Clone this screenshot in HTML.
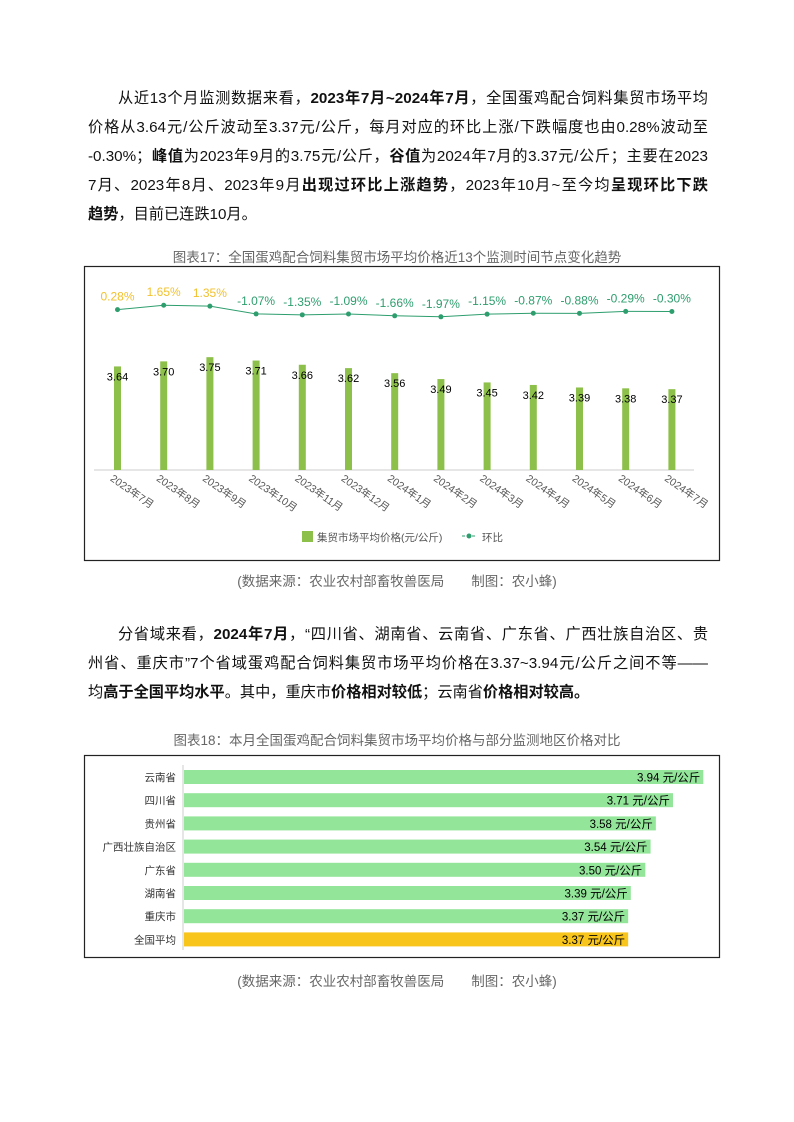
<!DOCTYPE html>
<html><head><meta charset="utf-8"><style>
body{margin:0;background:#fff;}
.page{position:relative;width:794px;height:1122px;overflow:hidden;font-family:"Liberation Sans","Noto Sans CJK SC",sans-serif;color:#111;}
.p{position:absolute;left:88px;width:620px;font-size:15.2px;line-height:29px;}
.p div{text-align:justify;text-align-last:justify;white-space:nowrap;}
.p div.last{text-align-last:left;}
.cap{position:absolute;left:0;width:794px;text-align:center;font-size:13.5px;color:#666;}
svg text{font-family:"Liberation Sans","Noto Sans CJK SC",sans-serif;}
</style></head><body><div class="page">
<div class="p" style="top:84px">
<div style="padding-left:30px">从近13个月监测数据来看，<b>2023年7月~2024年7月</b>，全国蛋鸡配合饲料集贸市场平均</div>
<div>价格从3.64元/公斤波动至3.37元/公斤，每月对应的环比上涨/下跌幅度也由0.28%波动至</div>
<div>-0.30%；<b>峰值</b>为2023年9月的3.75元/公斤，<b>谷值</b>为2024年7月的3.37元/公斤；主要在2023</div>
<div>7月、2023年8月、2023年9月<b>出现过环比上涨趋势</b>，2023年10月~至今均<b>呈现环比下跌</b></div>
<div class="last"><b>趋势</b>，目前已连跌10月。</div>
</div>
<div class="cap" style="top:246px">图表17：全国蛋鸡配合饲料集贸市场平均价格近13个监测时间节点变化趋势</div>
<svg style="position:absolute;left:0;top:0" width="794" height="1122">
<rect x="84.5" y="266.5" width="635" height="294" fill="none" stroke="#222" stroke-width="1.2"/>
<line x1="94" y1="470" x2="694" y2="470" stroke="#ccc"/>
<g id="bars"></g>
<rect x="302" y="531" width="11" height="11" fill="#8dc04a"/>
<text x="317" y="541" font-size="10.5" fill="#555">集贸市场平均价格(元/公斤)</text>
<line x1="462" y1="536" x2="476" y2="536" stroke="#2e9e6e" stroke-dasharray="3,2"/><circle cx="469" cy="536" r="2.5" fill="#2e9e6e"/>
<text x="482" y="541" font-size="10.5" fill="#555">环比</text>
<rect x="84.5" y="755.5" width="635" height="202" fill="none" stroke="#222" stroke-width="1.2"/>
<line x1="183" y1="765" x2="183" y2="950" stroke="#ccc"/>
<g id="hb"></g>
</svg>
<div class="cap" style="top:570px">(数据来源：农业农村部畜牧兽医局　　制图：农小蜂)</div>
<div class="p" style="top:620px">
<div style="padding-left:30px">分省域来看，<b>2024年7月</b>，“四川省、湖南省、云南省、广东省、广西壮族自治区、贵</div>
<div>州省、重庆市”7个省域蛋鸡配合饲料集贸市场平均价格在3.37~3.94元/公斤之间不等——</div>
<div class="last">均<b>高于全国平均水平</b>。其中，重庆市<b>价格相对较低</b>；云南省<b>价格相对较高。</b></div>
</div>
<div class="cap" style="top:729px">图表18：本月全国蛋鸡配合饲料集贸市场平均价格与部分监测地区价格对比</div>
<div class="cap" style="top:970px">(数据来源：农业农村部畜牧兽医局　　制图：农小蜂)</div>
</div>
<script>
var v=[3.64,3.70,3.75,3.71,3.66,3.62,3.56,3.49,3.45,3.42,3.39,3.38,3.37];
var r=[0.28,1.65,1.35,-1.07,-1.35,-1.09,-1.66,-1.97,-1.15,-0.87,-0.88,-0.29,-0.30];
var m=["2023年7月","2023年8月","2023年9月","2023年10月","2023年11月","2023年12月","2024年1月","2024年2月","2024年3月","2024年4月","2024年5月","2024年6月","2024年7月"];
var s="",pts=[];
for(var i=0;i<13;i++){var x=117.5+i*46.2,h=(v[i]-2.41)*84.2,y=470-h;
s+='<rect x="'+(x-3.5)+'" y="'+y+'" width="7" height="'+h+'" fill="#8dc04a"/>';
s+='<text x="'+x+'" y="'+(y+14)+'" font-size="11" text-anchor="middle">'+v[i].toFixed(2)+'</text>';
var ly=310.5-r[i]*3.2;pts.push(x+','+ly);
s+='<circle cx="'+x+'" cy="'+ly+'" r="2.5" fill="#2e9e6e"/>';
s+='<text x="'+x+'" y="'+(ly-9)+'" font-size="12" text-anchor="middle" fill="'+(r[i]>0?'#f2c12e':'#2e9e6e')+'">'+r[i].toFixed(2)+'%</text>';
s+='<text transform="translate('+(x-8)+',480) rotate(35)" font-size="10.5" fill="#555">'+m[i]+'</text>';}
s='<polyline points="'+pts.join(' ')+'" fill="none" stroke="#2e9e6e" stroke-width="1"/>'+s;
document.getElementById('bars').innerHTML=s;
var n=["云南省","四川省","贵州省","广西壮族自治区","广东省","湖南省","重庆市","全国平均"],hv=[3.94,3.71,3.58,3.54,3.50,3.39,3.37,3.37],t="";
for(var j=0;j<8;j++){var cy=777+j*23.2,w=hv[j]*131.8;
t+='<rect x="184" y="'+(cy-7)+'" width="'+w+'" height="14" fill="'+(j==7?'#f8c51c':'#93e59a')+'"/>';
t+='<text x="176" y="'+(cy+4)+'" font-size="10.5" text-anchor="end" fill="#333">'+n[j]+'</text>';
t+='<text x="'+(184+w-3)+'" y="'+(cy+4.5)+'" font-size="11.5" text-anchor="end">'+hv[j].toFixed(2)+' 元/公斤</text>';}
document.getElementById('hb').innerHTML=t;
</script>
</body></html>
